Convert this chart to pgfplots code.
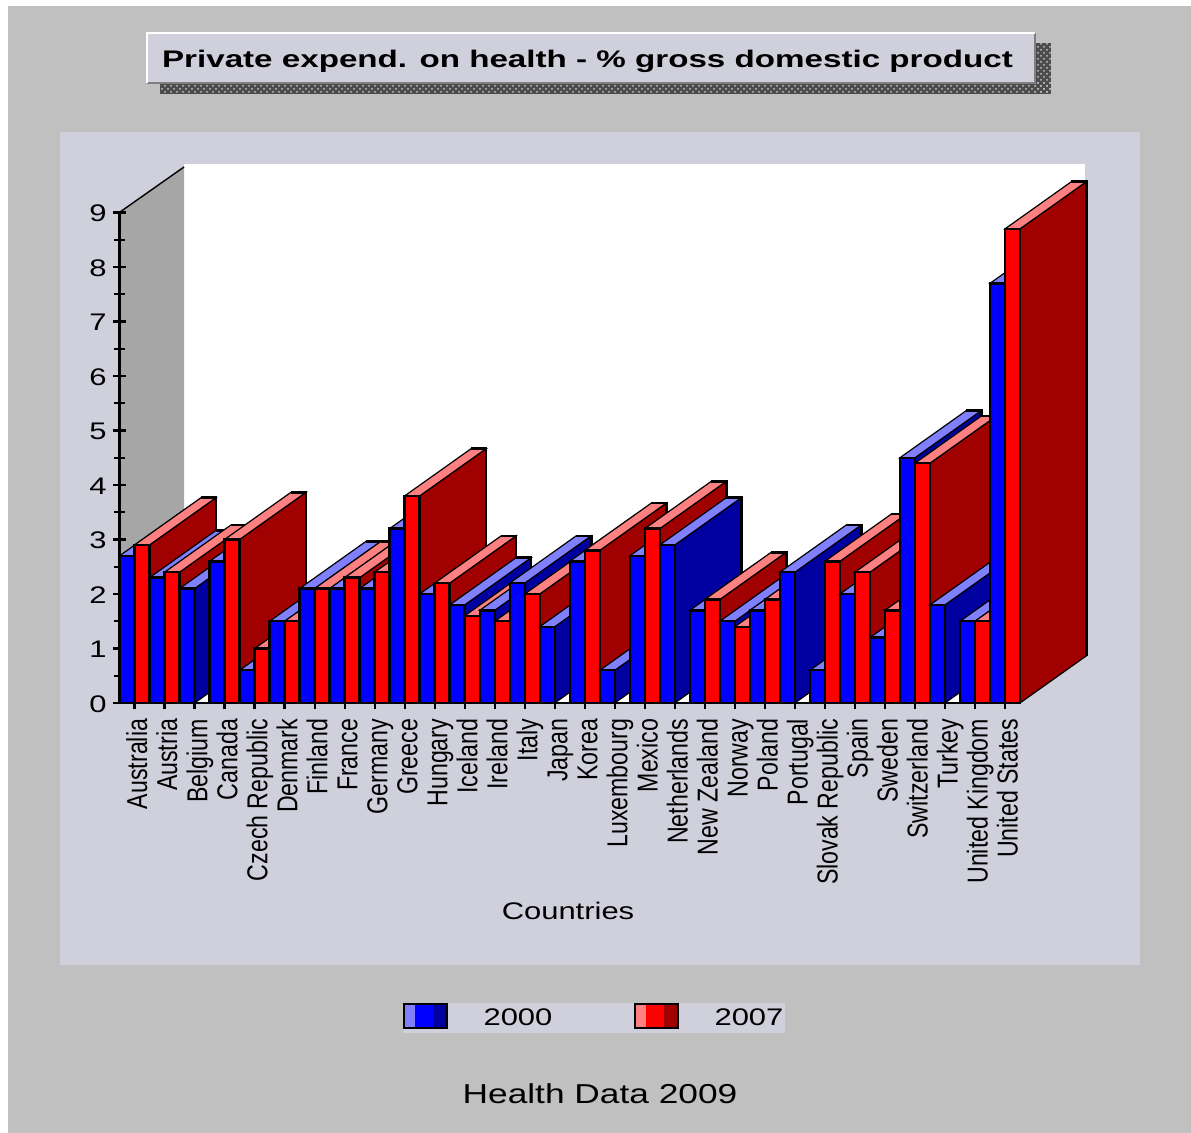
\documentclass[border=0pt]{standalone}
\usepackage{pgfplots}
\usepackage{pgfplotstable}
\usepackage{fontspec}
\pgfplotsset{compat=1.18}
\usetikzlibrary{patterns}
\setmainfont{Liberation Sans}

\definecolor{pagegray}{HTML}{C0C0C0}
\definecolor{panel}{HTML}{D0D0DC}
\definecolor{wallgray}{HTML}{A6A6A6}
\definecolor{bface}{HTML}{0000FF}
\definecolor{bside}{HTML}{0000A0}
\definecolor{btop}{HTML}{8080FF}
\definecolor{rface}{HTML}{FF0000}
\definecolor{rside}{HTML}{A00000}
\definecolor{rtop}{HTML}{FF8080}

% Private health spending, % of GDP (nan = not reported)
\pgfplotstableread{
idx y2000 y2007
0  2.7 2.9
1  2.3 2.4
2  2.1 nan
3  2.6 3.0
4  0.6 1.0
5  1.5 1.5
6  2.1 2.1
7  2.1 2.3
8  2.1 2.4
9  3.2 3.8
10 2.0 2.2
11 1.8 1.6
12 1.7 1.5
13 2.2 2.0
14 1.4 nan
15 2.6 2.8
16 0.6 nan
17 2.7 3.2
18 2.9 nan
19 1.7 1.9
20 1.5 1.4
21 1.7 1.9
22 2.4 nan
23 0.6 2.6
24 2.0 2.4
25 1.2 1.7
26 4.5 4.4
27 1.8 nan
28 1.5 1.5
29 7.7 8.7
}\healthdata

% Text helpers: the face is 24 px tall at 0.5 pt per pixel and drawn wide
\newcommand{\basefont}{\fontsize{12}{14}\selectfont}
\newcommand{\wide}[1]{\scalebox{1.29}[1]{\basefont #1}}
\newcommand{\tall}[1]{\scalebox{0.965}[1.2]{\basefont\strut #1}}

% Oblique offset of the extruded bars, in axis units
\def\depthx{2.215}
\def\depthy{0.867}
\def\barw{0.5}
\def\nanword{nan}

% One extruded bar: left edge, value, face / side / top colours.
% Oblique edges are drawn finer than the upright and level ones.
\newcommand{\extrudedbar}[5]{%
  \edef\barval{#2}%
  \ifx\barval\nanword\else
    \pgfmathsetmacro\xa{#1}%
    \pgfmathsetmacro\xb{#1+\barw}%
    \pgfmathsetmacro\xc{\xb+\depthx}%
    \pgfmathsetmacro\xd{\xa+\depthx}%
    \pgfmathsetmacro\yt{\barval+\depthy}%
    \edef\drawit{%
      \noexpand\addplot[fill=#4,draw=black,line width=0.6pt] coordinates {(\xb,0) (\xc,\depthy) (\xc,\yt) (\xb,\barval)} --cycle;
      \noexpand\addplot[fill=#5,draw=black,line width=0.6pt] coordinates {(\xa,\barval) (\xb,\barval) (\xc,\yt) (\xd,\yt)} --cycle;
      \noexpand\addplot[draw=black,line width=1.3pt] coordinates {(\xc,\depthy) (\xc,\yt) (\xd,\yt)};
      \noexpand\addplot[fill=#3,draw=black,line width=1.2pt] coordinates {(\xa,0) (\xb,0) (\xb,\barval) (\xa,\barval)} --cycle;
    }%
    \drawit
  \fi
}

\begin{document}
\begin{tikzpicture}
\begin{scope}[x=0.5pt,y=-0.5pt]
  \useasboundingbox (0,0) rectangle (1191,1133);
  \fill[white] (0,0) rectangle (1191,1133);
  \fill[pagegray] (8,6) rectangle (1191,1133);

  % Title plate with its dotted shadow
  \fill[black!70] (160,83) rectangle (1051,94);
  \fill[black!70] (1035,43) rectangle (1051,94);
  \fill[pattern=crosshatch dots,pattern color=pagegray] (160,83) rectangle (1051,94);
  \fill[pattern=crosshatch dots,pattern color=pagegray] (1035,43) rectangle (1051,94);
  \fill[panel] (147,33) rectangle (1035,83);
  \draw[gray,line width=1pt] (147,83) -- (1035,83) -- (1035,33);
  \draw[white,line width=1pt] (147,83) -- (147,33) -- (1035,33);
  \node[inner sep=0pt] at (587.5,61)
    {\scalebox{1.382}[1]{\basefont\bfseries Private expend. on health - \% gross domestic product}};

  % Chart panel, back wall, floor and side wall
  \fill[panel] (60,132) rectangle (1140,965);
  \fill[white] (184,164) rectangle (1085,655);
  \fill[white] (120,703) -- (1020,703) -- (1087,655) -- (184,655) -- cycle;
  \fill[wallgray] (120,212) -- (184,167) -- (184,655) -- (120,703) -- cycle;
  \draw[black,line width=0.7pt] (120,212) -- (184,167);

  \coordinate (O) at (119.5,703);

  \node[inner sep=0pt] at (568,911) {\wide{Countries}};

  % Legend
  \fill[panel] (403,1003) rectangle (785,1033);
  \fill[btop] (404,1004) rectangle (415,1028);
  \fill[bface] (415,1004) rectangle (433,1028);
  \fill[bside] (433,1004) rectangle (447,1028);
  \draw[black,line width=1pt] (404,1004) rectangle (447,1028);
  \fill[rtop] (635,1004) rectangle (646,1028);
  \fill[rface] (646,1004) rectangle (664,1028);
  \fill[rside] (664,1004) rectangle (678,1028);
  \draw[black,line width=1pt] (635,1004) rectangle (678,1028);
  \node[inner sep=0pt] at (518,1017) {\wide{2000}};
  \node[inner sep=0pt] at (749,1017) {\wide{2007}};

  \node[inner sep=0pt] at (600,1094) {\scalebox{1.14}{\wide{Health Data 2009}}};
\end{scope}

\begin{axis}[
  at={(O)}, anchor=south west,
  scale only axis, width=450.25pt, height=245.25pt,
  xmin=0, xmax=30, ymin=0, ymax=9,
  clip=false,
  axis x line=bottom, axis y line=left,
  axis line style={-,line width=1.2pt,black},
  tick align=center,
  tick style={black,line width=1.1pt},
  major tick length=6.5pt, minor tick length=5.5pt,
  ytick={0,...,9}, minor ytick={0.5,1.5,...,8.5},
  yticklabels={\wide{0},\wide{1},\wide{2},\wide{3},\wide{4},\wide{5},\wide{6},\wide{7},\wide{8},\wide{9}},
  yticklabel style={inner sep=0pt,xshift=-3pt,yshift=-0.5pt},
  xtick={0.5,1.5,...,29.5},
  xticklabels={\tall{Australia},\tall{Austria},\tall{Belgium},\tall{Canada},\tall{Czech Republic},\tall{Denmark},\tall{Finland},\tall{France},\tall{Germany},\tall{Greece},\tall{Hungary},\tall{Iceland},\tall{Ireland},\tall{Italy},\tall{Japan},\tall{Korea},\tall{Luxembourg},\tall{Mexico},\tall{Netherlands},\tall{New Zealand},\tall{Norway},\tall{Poland},\tall{Portugal},\tall{Slovak Republic},\tall{Spain},\tall{Sweden},\tall{Switzerland},\tall{Turkey},\tall{United Kingdom},\tall{United States}},
  xticklabel style={rotate=90,anchor=east,inner sep=0pt,xshift=-4.5pt,yshift=-3pt},
]
\pgfplotsforeachungrouped \i in {0,...,29}{%
  \pgfplotstablegetelem{\i}{y2000}\of\healthdata
  \let\vala\pgfplotsretval
  \pgfplotstablegetelem{\i}{y2007}\of\healthdata
  \let\valb\pgfplotsretval
  \extrudedbar{\i}{\vala}{bface}{bside}{btop}%
  \pgfmathsetmacro\ileft{\i+0.5}%
  \extrudedbar{\ileft}{\valb}{rface}{rside}{rtop}%
}
\end{axis}
\end{tikzpicture}
\end{document}
